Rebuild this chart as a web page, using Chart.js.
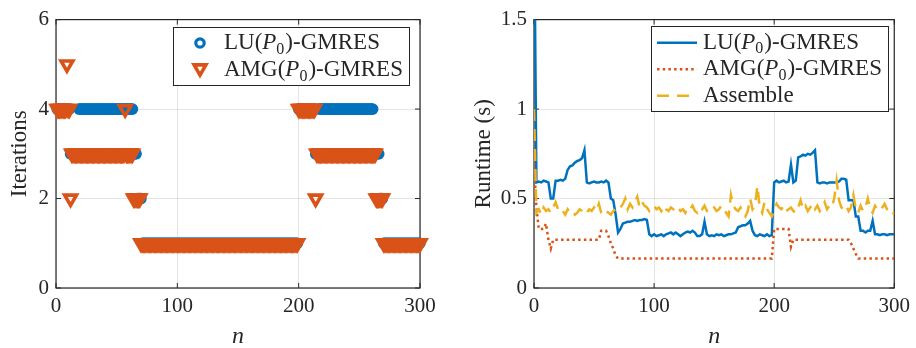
<!DOCTYPE html>
<html><head><meta charset="utf-8">
<script src="https://cdn.jsdelivr.net/npm/chart.js@4"></script>
<style>
html,body{margin:0;padding:0;background:#fff;overflow:hidden;}
#wrap{position:relative;width:916px;height:348px;}
canvas{position:absolute;top:0;}
#c1{left:0;} #c2{left:458px;}
</style></head><body>
<div id="wrap"><canvas id="c1" width="458" height="348"></canvas><canvas id="c2" width="458" height="348"></canvas></div>
<script>
// ---------- DATA ----------
const iterN = Array.from({length: 300}, (_, i) => i + 1);   // time step n = 1..300
const luIter = [
 4,4,4,4,4,4,4,4,4,4,4,3,3,3,3,3,3,3,4,4,
 4,4,4,4,4,4,4,4,4,4,4,4,4,4,4,4,4,4,4,4,
 4,4,4,4,4,4,4,4,4,4,4,4,4,4,4,4,4,4,4,4,
 4,4,4,3,3,3,2,2,2,2,1,1,1,1,1,1,1,1,1,1,
 1,1,1,1,1,1,1,1,1,1,1,1,1,1,1,1,1,1,1,1,
 1,1,1,1,1,1,1,1,1,1,1,1,1,1,1,1,1,1,1,1,
 1,1,1,1,1,1,1,1,1,1,1,1,1,1,1,1,1,1,1,1,
 1,1,1,1,1,1,1,1,1,1,1,1,1,1,1,1,1,1,1,1,
 1,1,1,1,1,1,1,1,1,1,1,1,1,1,1,1,1,1,1,1,
 1,1,1,1,1,1,1,1,1,1,1,1,1,1,1,1,1,1,1,4,
 4,4,4,4,4,4,4,4,4,4,4,4,4,3,3,3,4,4,4,4,
 4,4,4,4,4,4,4,4,4,4,4,4,4,4,4,4,4,4,4,4,
 4,4,4,4,4,4,4,4,4,4,4,4,4,4,4,4,4,4,4,4,
 4,3,3,3,3,3,2,2,2,1,1,1,1,1,1,1,1,1,1,1,
 1,1,1,1,1,1,1,1,1,1,1,1,1,1,1,1,1,1,1,1
];
const amgIter = [
 4,4,4,4,4,4,4,4,5,4,4,2,3,3,3,3,3,3,3,3,
 3,3,3,3,3,3,3,3,3,3,3,3,3,3,3,3,3,3,3,3,
 3,3,3,3,3,3,3,3,3,3,3,3,3,3,3,3,4,3,3,3,
 3,3,3,2,2,2,2,2,2,1,1,1,1,1,1,1,1,1,1,1,
 1,1,1,1,1,1,1,1,1,1,1,1,1,1,1,1,1,1,1,1,
 1,1,1,1,1,1,1,1,1,1,1,1,1,1,1,1,1,1,1,1,
 1,1,1,1,1,1,1,1,1,1,1,1,1,1,1,1,1,1,1,1,
 1,1,1,1,1,1,1,1,1,1,1,1,1,1,1,1,1,1,1,1,
 1,1,1,1,1,1,1,1,1,1,1,1,1,1,1,1,1,1,1,1,
 1,1,1,1,1,1,1,1,1,1,1,1,1,1,1,1,1,1,1,4,
 4,4,4,4,4,4,4,4,4,4,4,4,4,2,3,3,3,3,3,3,
 3,3,3,3,3,3,3,3,3,3,3,3,3,3,3,3,3,3,3,3,
 3,3,3,3,3,3,3,3,3,3,3,3,3,3,3,3,3,3,3,3,
 3,3,3,2,2,2,2,2,2,1,1,1,1,1,1,1,1,1,1,1,
 1,1,1,1,1,1,1,1,1,1,1,1,1,1,1,1,1,1,1,1
];
const timeN = Array.from({length: 151}, (_, i) => 2 * i);   // n = 0,2,...,300
const luTime = [
 2.2,0.59,0.595,0.59,0.60,0.595,0.59,0.50,0.50,0.60,
 0.60,0.605,0.60,0.61,0.66,0.68,0.685,0.70,0.71,0.715,
 0.725,0.77,0.59,0.585,0.59,0.595,0.59,0.59,0.595,0.59,
 0.60,0.59,0.50,0.49,0.41,0.31,0.33,0.36,0.365,0.37,
 0.37,0.375,0.38,0.375,0.38,0.38,0.385,0.38,0.30,0.29,
 0.30,0.29,0.295,0.30,0.29,0.30,0.305,0.31,0.30,0.31,
 0.30,0.29,0.30,0.31,0.315,0.31,0.32,0.31,0.29,0.29,
 0.30,0.37,0.30,0.29,0.295,0.29,0.30,0.295,0.30,0.29,
 0.295,0.30,0.30,0.305,0.31,0.34,0.345,0.35,0.35,0.36,
 0.375,0.32,0.295,0.29,0.30,0.295,0.29,0.30,0.29,0.295,
 0.59,0.60,0.59,0.595,0.60,0.59,0.595,0.69,0.59,0.60,
 0.73,0.735,0.745,0.74,0.75,0.745,0.755,0.77,0.59,0.585,
 0.59,0.59,0.585,0.59,0.59,0.59,0.59,0.595,0.61,0.61,
 0.605,0.49,0.49,0.49,0.40,0.40,0.32,0.32,0.31,0.32,
 0.32,0.375,0.30,0.30,0.295,0.30,0.30,0.295,0.30,0.30,
 0.30
];
const amgTime = [
 0.70,0.45,0.33,0.33,0.33,0.36,0.27,0.22,0.27,0.27,
 0.27,0.27,0.27,0.27,0.27,0.27,0.27,0.27,0.27,0.27,
 0.27,0.27,0.27,0.27,0.27,0.27,0.27,0.27,0.32,0.32,
 0.32,0.29,0.25,0.22,0.18,0.165,0.165,0.165,0.165,0.165,
 0.165,0.165,0.165,0.165,0.165,0.165,0.165,0.165,0.165,0.165,
 0.165,0.165,0.165,0.165,0.165,0.165,0.165,0.165,0.165,0.165,
 0.165,0.165,0.165,0.165,0.165,0.165,0.165,0.165,0.165,0.165,
 0.165,0.165,0.165,0.165,0.165,0.165,0.165,0.165,0.165,0.165,
 0.165,0.165,0.165,0.165,0.165,0.165,0.165,0.165,0.165,0.165,
 0.165,0.165,0.165,0.165,0.165,0.165,0.165,0.165,0.165,0.165,
 0.33,0.33,0.33,0.33,0.33,0.33,0.33,0.23,0.27,0.27,
 0.27,0.27,0.27,0.27,0.27,0.27,0.27,0.27,0.27,0.27,
 0.27,0.27,0.27,0.27,0.27,0.27,0.27,0.27,0.27,0.27,
 0.27,0.27,0.25,0.22,0.19,0.165,0.165,0.165,0.165,0.165,
 0.165,0.165,0.165,0.165,0.165,0.165,0.165,0.165,0.165,0.165,
 0.165
];
const asmTime = [
 1.00,0.42,0.44,0.41,0.45,0.43,0.44,0.42,0.45,0.48,
 0.44,0.42,0.43,0.41,0.44,0.42,0.43,0.41,0.42,0.44,
 0.43,0.41,0.42,0.44,0.43,0.45,0.43,0.47,0.42,0.41,
 0.43,0.42,0.41,0.43,0.44,0.43,0.45,0.47,0.50,0.44,
 0.47,0.45,0.48,0.51,0.45,0.48,0.46,0.45,0.43,0.45,
 0.46,0.44,0.45,0.43,0.46,0.44,0.43,0.45,0.44,0.46,
 0.45,0.43,0.44,0.42,0.45,0.44,0.46,0.43,0.42,0.45,
 0.44,0.46,0.43,0.42,0.44,0.45,0.43,0.44,0.46,0.45,
 0.42,0.40,0.52,0.46,0.44,0.43,0.45,0.42,0.40,0.43,
 0.50,0.44,0.46,0.57,0.45,0.42,0.48,0.44,0.42,0.40,
 0.43,0.47,0.45,0.44,0.46,0.43,0.44,0.45,0.43,0.42,
 0.45,0.49,0.44,0.46,0.43,0.45,0.47,0.44,0.46,0.43,
 0.45,0.48,0.44,0.46,0.45,0.50,0.60,0.49,0.45,0.44,
 0.46,0.43,0.45,0.52,0.44,0.42,0.46,0.43,0.45,0.50,
 0.44,0.42,0.46,0.44,0.43,0.45,0.47,0.44,0.42,0.43,
 0.41
];
const nTicks = [0, 100, 200, 300];
const iterTicks = [0, 2, 4, 6];
const timeTicks = [0, 0.5, 1, 1.5];
const labels = {lu: 'LU(P_0)-GMRES', amg: 'AMG(P_0)-GMRES', asm: 'Assemble'};

// ---------- STYLE ----------
const BLUE = '#0072BD', ORANGE = '#D95319', YELLOW = '#EDB120', INK = '#262626';
const FAM = "'Liberation Serif', 'Times New Roman', serif";

function pts(xs, ys){ return ys.map((v, i) => ({x: xs[i], y: v})); }

function richLabel(ctx, label, x, y, size){
  const m = label.match(/^(.*?)P_0(.*)$/);
  ctx.textBaseline = 'middle'; ctx.textAlign = 'left'; ctx.fillStyle = INK;
  const normal = size + 'px ' + FAM, ital = 'italic ' + size + 'px ' + FAM, sub = Math.round(size*0.7) + 'px ' + FAM;
  if (!m){ ctx.font = normal; ctx.fillText(label, x, y); return; }
  let cx = x;
  ctx.font = normal; ctx.fillText(m[1], cx, y); cx += ctx.measureText(m[1]).width;
  ctx.font = ital; ctx.fillText('P', cx, y); cx += ctx.measureText('P').width;
  ctx.font = sub; ctx.fillText('0', cx, y + size*0.28); cx += ctx.measureText('0').width + 1;
  ctx.font = normal; ctx.fillText(m[2], cx, y);
}

function boxPlugin(){
  return {
    id: 'boxTicks',
    beforeDatasetsDraw(chart){
      const {ctx, chartArea: a, scales: {x, y}} = chart;
      ctx.save();
      ctx.strokeStyle = INK; ctx.lineWidth = 1.2;
      ctx.strokeRect(a.left, a.top, a.right - a.left, a.bottom - a.top);
      ctx.lineWidth = 1;
      x.ticks.forEach(t => {
        const p = x.getPixelForValue(t.value);
        ctx.beginPath(); ctx.moveTo(p, a.bottom); ctx.lineTo(p, a.bottom - 5);
        ctx.moveTo(p, a.top); ctx.lineTo(p, a.top + 5); ctx.stroke();
      });
      y.ticks.forEach(t => {
        const p = y.getPixelForValue(t.value);
        ctx.beginPath(); ctx.moveTo(a.left, p); ctx.lineTo(a.left + 5, p);
        ctx.moveTo(a.right, p); ctx.lineTo(a.right - 5, p); ctx.stroke();
      });
      ctx.restore();
    }
  };
}

function legendPlugin(spec){
  return {
    id: 'customLegend',
    afterDraw(chart){
      const ctx = chart.ctx;
      ctx.save();
      ctx.fillStyle = '#fff'; ctx.fillRect(spec.x, spec.y, spec.w, spec.h);
      ctx.strokeStyle = INK; ctx.lineWidth = 1;
      ctx.strokeRect(spec.x + 0.5, spec.y + 0.5, spec.w, spec.h);
      spec.rows.forEach((r, i) => {
        const ds = chart.data.datasets[r.ds];
        const ry = spec.y + spec.row0 + i * spec.rowH;
        ctx.save();
        if (r.kind === 'circle'){
          ctx.strokeStyle = ds.borderColor; ctx.lineWidth = ds.borderWidth;
          ctx.beginPath(); ctx.arc(spec.mx, ry, ds.pointRadius, 0, Math.PI*2); ctx.stroke();
        } else if (r.kind === 'tri'){
          ctx.strokeStyle = ds.borderColor; ctx.lineWidth = ds.borderWidth;
          const rr = ds.pointRadius, cy = ry - rr*0.25;
          ctx.beginPath();
          ctx.moveTo(spec.mx, cy + rr);
          ctx.lineTo(spec.mx - rr*Math.sqrt(3)/2, cy - rr/2);
          ctx.lineTo(spec.mx + rr*Math.sqrt(3)/2, cy - rr/2);
          ctx.closePath(); ctx.stroke();
        } else {
          ctx.strokeStyle = ds.borderColor; ctx.lineWidth = ds.borderWidth;
          ctx.setLineDash(ds.borderDash || []);
          ctx.beginPath(); ctx.moveTo(spec.lx0, ry); ctx.lineTo(spec.lx1, ry); ctx.stroke();
        }
        ctx.restore();
        richLabel(ctx, ds.label, spec.tx, ry, spec.font);
      });
      ctx.restore();
    }
  };
}

function axes(yTicks, yMin, yMax, yTitle, yWidth, titlePad){
  const tickFont = {family: FAM, size: 21};
  return {
    x: {
      type: 'linear', min: 0, max: 300,
      afterBuildTicks: s => { s.ticks = nTicks.map(v => ({value: v})); },
      afterFit: s => { s.height = 60; },
      grid: {color: 'rgba(0,0,0,0.10)', drawTicks: false, lineWidth: 1},
      border: {display: false},
      ticks: {color: INK, font: tickFont, padding: 6, maxRotation: 0, callback: v => String(v)},
      title: {display: true, text: 'n', color: INK,
              font: {family: FAM, size: 24, style: 'italic', lineHeight: 1}, padding: {top: 0, bottom: -1}}
    },
    y: {
      type: 'linear', min: yMin, max: yMax,
      afterBuildTicks: s => { s.ticks = yTicks.map(v => ({value: v})); },
      afterFit: s => { s.width = yWidth; },
      grid: {color: 'rgba(0,0,0,0.10)', drawTicks: false, lineWidth: 1},
      border: {display: false},
      ticks: {color: INK, font: tickFont, padding: 7, callback: v => String(v)},
      title: {display: true, text: yTitle, color: INK,
              font: {family: FAM, size: 23, lineHeight: 1.2}, padding: {top: titlePad, bottom: 0}}
    }
  };
}

const common = {responsive: false, animation: false, events: [], devicePixelRatio: 1};

// ---------- LEFT: iterations ----------
new Chart(document.getElementById('c1'), {
  type: 'scatter',
  data: {datasets: [
    {label: labels.lu, data: pts(iterN, luIter), order: 2, clip: false,
     pointStyle: 'circle', pointRadius: 4.2, borderWidth: 3.2, borderColor: BLUE, backgroundColor: 'rgba(0,0,0,0)'},
    {label: labels.amg, data: pts(iterN, amgIter), order: 1, clip: false,
     pointStyle: 'triangle', rotation: 180, pointRadius: 6.8, borderWidth: 3.6, borderColor: ORANGE, backgroundColor: 'rgba(0,0,0,0)'}
  ]},
  options: Object.assign({}, common, {
    layout: {padding: {left: 0, top: 16, right: 38, bottom: 0}},
    plugins: {legend: {display: false}, tooltip: {enabled: false}},
    scales: axes(iterTicks, 0, 6, 'Iterations', 56, 6)
  }),
  plugins: [boxPlugin(), legendPlugin({x: 173, y: 27, w: 236, h: 58, row0: 16, rowH: 27, mx: 200, tx: 224, font: 23,
    rows: [{ds: 0, kind: 'circle'}, {ds: 1, kind: 'tri'}]})]
});

// ---------- RIGHT: runtime ----------
new Chart(document.getElementById('c2'), {
  type: 'line',
  data: {datasets: [
    {label: labels.lu, data: pts(timeN, luTime), order: 3, borderColor: BLUE, borderWidth: 2.5, pointRadius: 0, tension: 0},
    {label: labels.amg, data: pts(timeN, amgTime), order: 2, borderColor: ORANGE, borderWidth: 2.5, borderDash: [2.5, 3.2], pointRadius: 0, tension: 0},
    {label: labels.asm, data: pts(timeN, asmTime), order: 1, borderColor: YELLOW, borderWidth: 2.5, borderDash: [12, 8], pointRadius: 0, tension: 0}
  ]},
  options: Object.assign({}, common, {
    layout: {padding: {left: 0, top: 16, right: 18, bottom: 0}},
    plugins: {legend: {display: false}, tooltip: {enabled: false}},
    scales: axes(timeTicks, 0, 1.5, 'Runtime (s)', 76, 12)
  }),
  plugins: [boxPlugin(), legendPlugin({x: 193, y: 26, w: 237, h: 85, row0: 16.7, rowH: 26.5, lx0: 199, lx1: 239, tx: 245, font: 23,
    rows: [{ds: 0, kind: 'line'}, {ds: 1, kind: 'line'}, {ds: 2, kind: 'line'}]})]
});
</script>
</body></html>
